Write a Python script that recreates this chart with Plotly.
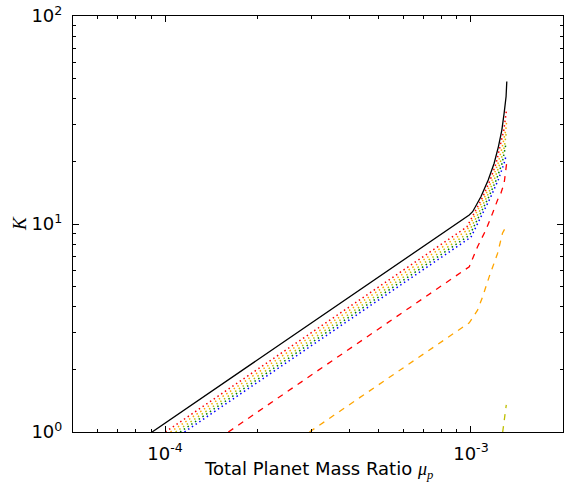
import plotly.graph_objects as go

# ---- data ----
black_x = [9.07e-5, 0.9874e-3, 1.0128e-3, 1.078e-3, 1.139e-3, 1.191e-3, 1.230e-3, 1.262e-3, 1.284e-3, 1.303e-3, 1.310e-3]
black_k = [1.0, 11.05, 11.46, 13.53, 16.28, 19.6, 23.56, 28.3, 34.1, 41.0, 48.4]

red_dot_x = [1.002e-4, 0.97e-3, 1.094e-3, 1.156e-3, 1.209e-3, 1.248e-3, 1.281e-3, 1.303e-3, 1.307e-3]
red_dot_k = [1.0, 9.68, 13.53, 16.28, 19.6, 23.56, 28.3, 34.1, 35.3]

orange_dot_x = [1.0413e-4, 0.97e-3, 1.110e-3, 1.173e-3, 1.227e-3, 1.267e-3, 1.300e-3, 1.308e-3]
orange_dot_k = [1.0, 9.315, 13.53, 16.28, 19.6, 23.56, 28.3, 31.0]

yellow_dot_x = [1.0823e-4, 0.98e-3, 1.128e-3, 1.191e-3, 1.246e-3, 1.287e-3, 1.305e-3]
yellow_dot_k = [1.0, 9.05, 13.53, 16.28, 19.6, 23.56, 27.5]

green_dot_x = [1.1198e-4, 0.99e-3, 1.145e-3, 1.210e-3, 1.265e-3, 1.300e-3]
green_dot_k = [1.0, 8.84, 13.53, 16.28, 19.6, 24.0]

blue_dot_x = [1.157e-4, 1.0e-3, 1.162e-3, 1.228e-3, 1.284e-3, 1.300e-3]
blue_dot_k = [1.0, 8.64, 13.53, 16.28, 19.6, 21.0]

red_dash_x = [1.61e-4, 0.9874e-3, 1.051e-3, 1.119e-3, 1.177e-3, 1.222e-3, 1.253e-3, 1.284e-3, 1.308e-3]
red_dash_k = [1.0, 6.23, 7.78, 9.36, 11.26, 13.05, 14.05, 15.7, 19.5]

orange_dash_x = [2.965e-4, 0.9874e-3, 1.051e-3, 1.092e-3, 1.147e-3, 1.222e-3, 1.268e-3, 1.310e-3]
orange_dash_k = [1.0, 3.35, 3.85, 4.47, 5.57, 7.22, 9.02, 9.89]

yellow_dash_x = [1.27e-3, 1.29e-3, 1.305e-3]
yellow_dash_k = [1.0, 1.16, 1.35]

x_tickvals = [1e-4, 1e-3]
x_ticktext = ["10<sup>-4</sup>", "10<sup>-3</sup>"]
y_tickvals = [1, 10, 100]
y_ticktext = ["10<sup>0</sup>", "10<sup>1</sup>", "10<sup>2</sup>"]

# ---- figure ----
DOT = "1.5px,3px"
DASH = "6px,6px"
series = [
    (black_x, black_k, "#000000", "solid", 1.3),
    (red_dot_x, red_dot_k, "#ff0000", DOT, 1.5),
    (orange_dot_x, orange_dot_k, "#ffa500", DOT, 1.5),
    (yellow_dot_x, yellow_dot_k, "#bfbf00", DOT, 1.5),
    (green_dot_x, green_dot_k, "#008000", DOT, 1.5),
    (blue_dot_x, blue_dot_k, "#0000ff", DOT, 1.5),
    (red_dash_x, red_dash_k, "#ff0000", DASH, 1.3),
    (orange_dash_x, orange_dash_k, "#ffa500", DASH, 1.3),
    (yellow_dash_x, yellow_dash_k, "#bfbf00", DASH, 1.3),
]

fig = go.Figure()
for xs, ks, col, dash, w in series:
    fig.add_trace(go.Scatter(x=xs, y=ks, mode="lines",
                             line=dict(color=col, dash=dash, width=w),
                             showlegend=False, hoverinfo="skip"))

x_minor = [d * 10 ** e for e in (-5, -4, -3) for d in range(2, 10) if 5e-5 < d * 10 ** e < 2.01e-3]
y_minor = [d * 10 ** e for e in (0, 1) for d in range(2, 10)]

axis_common = dict(
    type="log", showgrid=False, zeroline=False,
    showline=True, linecolor="black", linewidth=1.2, mirror="allticks",
    ticks="inside", ticklen=6, tickwidth=1, tickcolor="black",
    tickfont=dict(family="DejaVu Sans", size=18, color="black"),
)

fig.update_xaxes(**axis_common, range=[-4.30103, -2.69897],
                 tickvals=x_tickvals, ticktext=x_ticktext, ticklabelstandoff=5,
                 minor=dict(tickvals=x_minor, ticks="inside", ticklen=3, tickcolor="black", tickwidth=1))
fig.update_yaxes(**axis_common, range=[0, 2],
                 tickvals=y_tickvals, ticktext=y_ticktext, ticklabelstandoff=6,
                 minor=dict(tickvals=y_minor, ticks="inside", ticklen=3, tickcolor="black", tickwidth=1))

fig.add_annotation(xref="paper", yref="paper", x=0.5, y=0, yshift=-38, yanchor="middle",
                   showarrow=False,
                   text="Total Planet Mass Ratio <span style=\"font-family:'Liberation Serif'\"><i>μ</i><sub><i>p</i></sub></span>",
                   font=dict(family="DejaVu Sans", size=18, color="black"))
fig.add_annotation(xref="paper", yref="paper", x=0, y=0.5, xshift=-54, xanchor="center",
                   showarrow=False, textangle=-90,
                   text="<i>K</i>",
                   font=dict(family="Liberation Serif", size=19, color="black"))

fig.update_layout(width=565, height=485, margin=dict(l=73, r=2, t=16, b=53, pad=0),
                  plot_bgcolor="white", paper_bgcolor="white")

fig.write_html("out.html")
